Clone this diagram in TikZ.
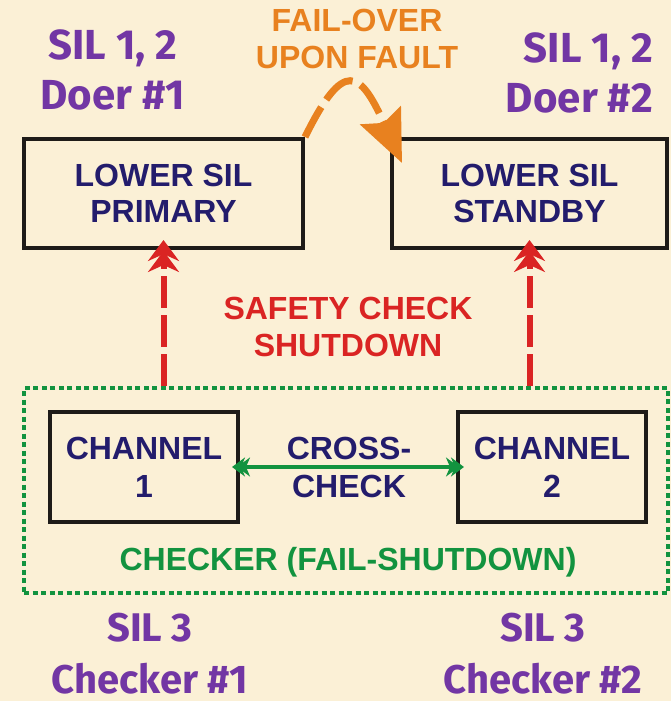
\documentclass[tikz,border=0pt]{standalone}
\usepackage{fontspec}
\setmainfont{Liberation Sans}
\newfontfamily\purpfont{Fira Sans}
\usetikzlibrary{arrows.meta}
\definecolor{bg}{HTML}{FBF0D6}
\definecolor{navy}{HTML}{231C6C}
\definecolor{purp}{HTML}{7236A4}
\definecolor{orng}{HTML}{E8811F}
\definecolor{redc}{HTML}{DA2423}
\definecolor{grn}{HTML}{12933F}
\definecolor{edge}{HTML}{1E1B18}
\tikzset{
  box/.style={draw=edge, line width=4pt, inner sep=0pt, align=center,
    text=navy, font=\bfseries\fontsize{32}{36}\selectfont},
  chanbox/.style={box, minimum width=188pt, minimum height=110pt,
    font=\bfseries\fontsize{32}{38}\selectfont},
  sillabel/.style={inner sep=0pt, align=center, text=purp,
    font=\purpfont\bfseries\fontsize{42}{50}\selectfont},
  sil3label/.style={inner sep=0pt, align=center, text=purp,
    font=\purpfont\bfseries\fontsize{40}{52}\selectfont},
  bigtext/.style={inner sep=0pt, align=center, font=\bfseries\fontsize{32}{37}\selectfont},
  checkerbox/.style={draw=grn, line width=4.5pt, dash pattern=on 5pt off 3.5pt},
  shutarrow/.style={draw=redc, line width=6pt, dash pattern=on 32pt off 7pt,
    -{Stealth[length=21pt,width=31pt,inset=7pt,sep=-10pt]Stealth[length=21pt,width=31pt,inset=7pt,sep=-10pt]}},
  crossarrow/.style={draw=grn, line width=3.5pt,
    {Stealth[length=13pt,width=19pt,inset=4pt,sep=-8pt]Stealth[length=13pt,width=19pt,inset=4pt,sep=-8pt]}-{Stealth[length=13pt,width=19pt,inset=4pt,sep=-8pt]Stealth[length=13pt,width=19pt,inset=4pt,sep=-8pt]}},
  failarrow/.style={draw=orng, line width=7pt, dash pattern=on 34pt off 9pt,
    -{Stealth[length=52pt,width=44pt,inset=8pt]}}
}
\begin{document}
\begin{tikzpicture}[x=1pt,y=-1pt]
\fill[bg] (0,0) rectangle (671,701);
\useasboundingbox (0,0) rectangle (671,701);

% upper boxes
\node[box, minimum width=279pt, minimum height=109pt] (prim) at (163.5,193.5) {LOWER SIL\\PRIMARY};
\node[box, minimum width=275pt, minimum height=109pt] (stby) at (529.5,193.5) {LOWER SIL\\STANDBY};

% checker region
\node[checkerbox, minimum width=644pt, minimum height=205pt] (checker) at (346,490.5) {};
\node[chanbox] (ch1) at (144,467) {CHANNEL\\1};
\node[chanbox] (ch2) at (552,467) {CHANNEL\\2};

% labels
\node[sillabel] (doer1) at (113,70) {SIL 1, 2\\Doer \#1};
\node[sillabel, align=right, anchor=east] (doer2) at (653,73) {SIL 1, 2\\Doer \#2};
\node[sil3label] (chk1) at (150,654) {SIL 3\\Checker \#1};
\node[sil3label] (chk2) at (543,654) {SIL 3\\Checker \#2};
\node[bigtext, text=orng] (failover) at (357,39) {FAIL-OVER\\UPON FAULT};
\node[bigtext, text=redc] (safety) at (348,327) {SAFETY CHECK\\SHUTDOWN};
\node[bigtext, text=navy, font=\bfseries\fontsize{32}{38}\selectfont] (cross) at (349,467.5) {CROSS-\\CHECK};
\node[bigtext, text=grn, anchor=base] (checkerlbl) at (348,570) {CHECKER (FAIL-SHUTDOWN)};

% connectors
\draw[shutarrow] (prim.south |- checker.north) -- (prim.south);
\draw[shutarrow] (stby.south |- checker.north) -- (stby.south);
\draw[crossarrow] (ch1.east) -- (ch2.west);
\coordinate (fotip) at (402,163);
\draw[failarrow] (prim.north east) .. controls (344,58) and (360,70) .. (fotip);
\end{tikzpicture}
\end{document}
